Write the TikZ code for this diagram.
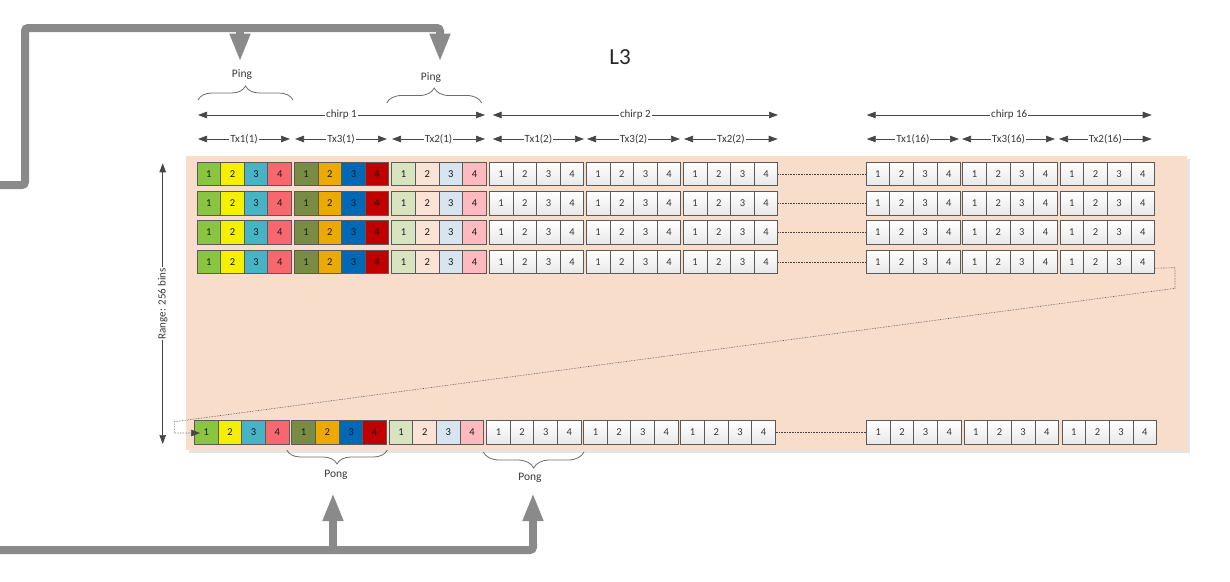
\documentclass[tikz,border=0pt]{standalone}
\usepackage{fontspec}
\setmainfont{Carlito}
\usetikzlibrary{arrows.meta,decorations.pathreplacing,calc}
\definecolor{bgpeach}{RGB}{249,221,203}
\definecolor{bgshadow}{RGB}{228,228,228}
\definecolor{cellline}{RGB}{90,90,90}
\definecolor{dimgray}{RGB}{70,70,70}
\definecolor{textgray}{RGB}{55,55,55}
\definecolor{biggray}{RGB}{138,138,138}
\definecolor{col11}{RGB}{137,197,64}
\definecolor{col12}{RGB}{244,240,0}
\definecolor{col13}{RGB}{70,180,196}
\definecolor{col14}{RGB}{246,104,110}
\definecolor{col21}{RGB}{120,140,68}
\definecolor{col22}{RGB}{236,170,0}
\definecolor{col23}{RGB}{0,104,180}
\definecolor{col24}{RGB}{192,0,0}
\definecolor{col31}{RGB}{216,228,192}
\definecolor{col32}{RGB}{250,226,212}
\definecolor{col33}{RGB}{216,228,240}
\definecolor{col34}{RGB}{255,186,192}
\tikzset{
  cell/.style={draw=cellline, line width=0.9pt, minimum width=23.65pt, minimum height=23.5pt,
    inner sep=0pt, text=textgray, font=\fontsize{10.5}{12}\selectfont},
  colcell/.style={cell, text=black!90},
  whitecell/.style={cell, top color=white, bottom color=black!9},
  dotline/.style={draw=dimgray, densely dotted, line width=0.6pt},
  dimarrow/.style={draw=dimgray, line width=0.7pt,
    {Triangle[length=9pt,width=6.5pt]}-{Triangle[length=9pt,width=6.5pt]}},
  lbl/.style={fill=white, inner sep=1pt, text=textgray, font=\fontsize{11}{13}\selectfont},
  bracelbl/.style={inner sep=0pt, text=textgray, font=\fontsize{11.5}{13}\selectfont},
  bigline/.style={draw=biggray, line width=8pt, rounded corners=3pt},
  bigarrow/.style={draw=biggray, line width=8pt, -{Triangle[length=28pt,width=19pt]}},
  bracepath/.style={draw=dimgray!80, line width=0.8pt, decorate,
    decoration={brace, amplitude=14pt}},
}
\begin{document}
\begin{tikzpicture}[x=1pt,y=-1pt]
\useasboundingbox (0,0) rectangle (1230,581);

% background panel
\fill[bgshadow] (189,159) rectangle (1190,453);
\fill[bgpeach] (186,156) rectangle (1187,450);

% title
\node[font=\fontsize{23}{26}\selectfont, text=black!85] (title) at (620,57) {L3};

% top rows of cells
\foreach \r/\yc in {1/174,2/203.5,3/232.5,4/262} {
  \foreach \gx/\g in {197/1,294.3/2,391.7/3} {
    \foreach \k in {1,...,4} {
      \node[colcell, fill=col\g\k] (c-\r-\g-\k) at (\gx+23.65*\k-11.83,\yc) {\k};
    }
  }
  \foreach \gx/\g in {489.3/4,586.3/5,683.3/6,866/7,962.7/8,1060/9} {
    \foreach \k in {1,...,4} {
      \node[whitecell] (c-\r-\g-\k) at (\gx+23.65*\k-11.83,\yc) {\k};
    }
  }
  \draw[dotline] (c-\r-6-4.east) -- (c-\r-7-1.west);
}

% bottom row of cells
\foreach \gx/\g in {194.5/1,291.8/2,389.2/3} {
  \foreach \k in {1,...,4} {
    \node[colcell, fill=col\g\k] (c-5-\g-\k) at (\gx+23.65*\k-11.83,432.5) {\k};
  }
}
\foreach \gx/\g in {486.6/4,583.6/5,680.8/6,866.5/7,964/8,1062/9} {
  \foreach \k in {1,...,4} {
    \node[whitecell] (c-5-\g-\k) at (\gx+23.65*\k-11.83,432.5) {\k};
  }
}
\draw[dotline] (c-5-6-4.east) -- (c-5-7-1.west);

% wrap-around connector from last row to the bottom row
\coordinate (wr0) at ($(c-4-9-4.south east)+(0,-6)$);
\coordinate (wr1) at (1175,267.7);
\coordinate (wr2) at (1175,288.3);
\coordinate (wr3) at (174.3,421.7);
\coordinate (wr4) at (174.3,433);
\coordinate (wr5) at ($(c-5-1-1.west)+(6,0.5)$);
\draw[dotline, -{Triangle[length=9pt,width=6.5pt]}] (wr0) -- (wr1) -- (wr2) -- (wr3) -- (wr4) -- (wr5);

% range dimension
\coordinate (rgA) at (162.7,163.3);
\coordinate (rgB) at (162.7,444);
\draw[dimarrow] (rgA) -- node[lbl, rotate=90] (rglbl) {Range: 256 bins} (rgB);

% chirp dimensions
\coordinate (ch1a) at (198,115);  \coordinate (ch1b) at (485,115);
\coordinate (ch2a) at (492.7,115); \coordinate (ch2b) at (778,115);
\coordinate (ch16a) at (866.7,115); \coordinate (ch16b) at (1151.7,115);
\draw[dimarrow] (ch1a) -- node[lbl, pos=0.5] (ch1l) {chirp 1} (ch1b);
\draw[dimarrow] (ch2a) -- node[lbl, pos=0.5] (ch2l) {chirp 2} (ch2b);
\draw[dimarrow] (ch16a) -- node[lbl, pos=0.5] (ch16l) {chirp 16} (ch16b);

% Tx dimensions
\foreach \xa/\xb/\t/\n in {198/290/Tx1(1)/1, 295/387/Tx3(1)/2, 392/485/Tx2(1)/3,
    492.7/584/Tx1(2)/4, 587/680/Tx3(2)/5, 684/777.7/Tx2(2)/6,
    866.7/959/Tx1(16)/7, 962/1055/Tx3(16)/8, 1059/1151.7/Tx2(16)/9} {
  \coordinate (tx\n a) at (\xa,139);
  \coordinate (tx\n b) at (\xb,139);
  \draw[dimarrow] (tx\n a) -- node[lbl] (tx\n l) {\t} (tx\n b);
}

% Ping braces
\coordinate (pg1a) at (198,100); \coordinate (pg1b) at (293,100);
\coordinate (pg2a) at (386.7,103); \coordinate (pg2b) at (481.7,103);
\draw[bracepath] (pg1a) -- (pg1b);
\draw[bracepath, decoration={brace, amplitude=15pt}] (pg2a) -- (pg2b);
\node[bracelbl] (ping1) at (242,75) {Ping};
\node[bracelbl] (ping2) at (431,78) {Ping};

% Pong braces
\coordinate (po1a) at (387.3,450); \coordinate (po1b) at (286.7,450);
\coordinate (po2a) at (584,452); \coordinate (po2b) at (483.3,452);
\draw[bracepath] (po1a) -- (po1b);
\draw[bracepath, decoration={brace, amplitude=16pt}] (po2a) -- (po2b);
\node[bracelbl] (pong1) at (336,475) {Pong};
\node[bracelbl] (pong2) at (530,477.5) {Pong};

% big gray arrows (top)
\coordinate (tA) at (0,185);
\coordinate (tB) at (25,185);
\coordinate (tC) at (25,28);
\coordinate (tD) at (440,28);
\coordinate (tE) at (440,61.7);
\coordinate (tF) at (240,28);
\coordinate (tG) at (240,61.7);
\draw[bigline] (tA) -- (tB) -- (tC) -- (tD) -- ($(tD)+(0,6)$);
\draw[bigarrow] ($(tD)+(0,3)$) -- (tE);
\draw[bigarrow] (tF) -- (tG);

% big gray arrows (bottom)
\coordinate (bA) at (0,550);
\coordinate (bB) at (533,550);
\coordinate (bC) at (533,493);
\coordinate (bD) at (333,550);
\coordinate (bE) at (333,493);
\draw[bigline] (bA) -- (bB) -- ($(bB)+(0,-6)$);
\draw[bigarrow] ($(bB)+(0,-3)$) -- (bC);
\draw[bigarrow] (bD) -- (bE);

\end{tikzpicture}
\end{document}
